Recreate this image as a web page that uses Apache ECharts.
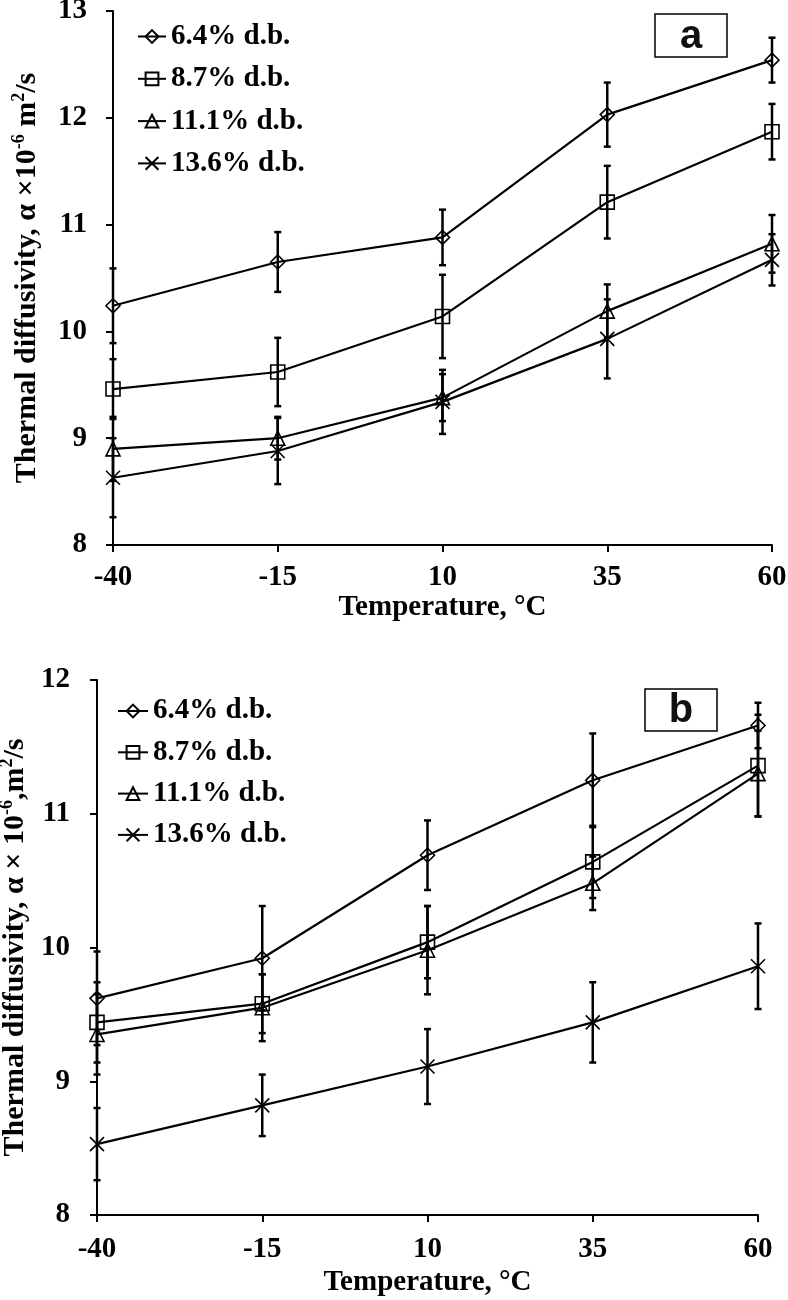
<!DOCTYPE html>
<html><head><meta charset="utf-8">
<script src="https://cdn.jsdelivr.net/npm/echarts@6/dist/echarts.min.js"></script>
<style>html,body{margin:0;padding:0;background:#fff}#c{width:788px;height:1300px}</style>
</head><body><div id="c"></div>
<script>
// ---- data ----
const categories = ['-40', '-15', '10', '35', '60'];
const seriesNames = ['6.4% d.b.', '8.7% d.b.', '11.1% d.b.', '13.6% d.b.'];
// panel a
const a64 = [10.24, 10.65, 10.88, 12.03, 12.54];
const a87 = [9.46, 9.62, 10.14, 11.21, 11.87];
const a111 = [8.90, 9.00, 9.38, 10.19, 10.82];
const a136 = [8.63, 8.88, 9.34, 9.93, 10.67];
const a64Err = [0.35, 0.28, 0.26, 0.30, 0.21];
const a87Err = [0.28, 0.32, 0.39, 0.34, 0.26];
const a111Err = [0.30, 0.20, 0.22, 0.25, 0.27];
const a136Err = [0.37, 0.31, 0.30, 0.37, 0.24];
// panel b
const b64 = [9.62, 9.92, 10.69, 11.25, 11.66];
const b87 = [9.44, 9.58, 10.04, 10.64, 11.36];
const b111 = [9.35, 9.55, 9.98, 10.48, 11.30];
const b136 = [8.53, 8.82, 9.11, 9.44, 9.86];
const b64Err = [0.35, 0.39, 0.26, 0.35, 0.17];
const b87Err = [0.30, 0.22, 0.27, 0.27, 0.38];
const b111Err = [0.30, 0.25, 0.33, 0.20, 0.32];
const b136Err = [0.27, 0.23, 0.28, 0.30, 0.32];
const yTicksA = [8, 13];
const yTicksB = [8, 12];

// ---- styling ----
const SERIF = "'Liberation Serif','Times New Roman',serif";
const SANS = "'Liberation Sans',Arial,sans-serif";
const FS = 29;
const symbols = ['diamond', 'rect', 'triangle', 'path://M0,0L10,10M10,0L0,10'];

const chart = echarts.init(document.getElementById('c'), null, {renderer: 'canvas'});

function errRender(params, api) {
  const x = api.value(0), lo = api.value(1), hi = api.value(2);
  const p1 = api.coord([x, lo]), p2 = api.coord([x, hi]);
  const w = 3.5;
  const style = {stroke: '#000', lineWidth: 2.5};
  return {type: 'group', children: [
    {type: 'line', shape: {x1: p1[0], y1: p1[1], x2: p2[0], y2: p2[1]}, style: style},
    {type: 'line', shape: {x1: p1[0] - w, y1: p1[1], x2: p1[0] + w, y2: p1[1]}, style: style},
    {type: 'line', shape: {x1: p2[0] - w, y1: p2[1], x2: p2[0] + w, y2: p2[1]}, style: style}
  ]};
}

function lineSeries(name, data, idx, axisIdx) {
  return {
    name: name, type: 'line', data: data,
    xAxisIndex: axisIdx, yAxisIndex: axisIdx,
    symbol: symbols[idx], symbolSize: 14, showAllSymbol: true,
    lineStyle: {color: '#000', width: 2.2},
    itemStyle: {color: 'rgba(255,255,255,0)', borderColor: '#000', borderWidth: 1.6},
    emphasis: {disabled: true}, z: 3
  };
}
function errSeries(vals, errs, axisIdx) {
  return {
    type: 'custom', xAxisIndex: axisIdx, yAxisIndex: axisIdx,
    renderItem: errRender,
    encode: {x: 0, y: [1, 2]},
    data: vals.map((v, i) => [i, v - errs[i], v + errs[i]]),
    z: 4, silent: true
  };
}

const grids = [
  {left: 113, top: 11, width: 659, height: 534, containLabel: false, outerBoundsMode: 'none'},
  {left: 97, top: 680, width: 661, height: 535, containLabel: false, outerBoundsMode: 'none'}
];

function xAxis(gi, labelMargin, nameGap) {
  return {
    type: 'category', gridIndex: gi, data: categories, boundaryGap: false,
    axisLine: {lineStyle: {color: '#000', width: 2}},
    axisTick: {length: 7, lineStyle: {color: '#000', width: 2}},
    axisLabel: {color: '#000', fontSize: FS, fontWeight: 'bold', fontFamily: SERIF, margin: labelMargin},
    splitLine: {show: false},
    name: 'Temperature, °C', nameLocation: 'middle', nameGap: nameGap,
    nameTextStyle: {color: '#000', fontSize: FS, fontWeight: 'bold', fontFamily: SERIF}
  };
}
function richName() {
  return {
    a: {fontSize: 30, fontWeight: 'bold', fontFamily: SERIF, color: '#000', lineHeight: 34, verticalAlign: 'middle'},
    s: {fontSize: 18, fontWeight: 'bold', fontFamily: SERIF, color: '#000', verticalAlign: 'top'}
  };
}
function yAxis(gi, ticks, name, labelMargin, nameGap) {
  return {
    type: 'value', gridIndex: gi, min: ticks[0], max: ticks[1], interval: 1,
    axisLine: {show: true, lineStyle: {color: '#000', width: 2}},
    axisTick: {show: true, length: 7, lineStyle: {color: '#000', width: 2}},
    axisLabel: {color: '#000', fontSize: FS, fontWeight: 'bold', fontFamily: SERIF, margin: labelMargin},
    splitLine: {show: false},
    name: name, nameLocation: 'middle', nameRotate: 90, nameGap: nameGap,
    nameTextStyle: {rich: richName()}
  };
}

const legendBase = {
  orient: 'vertical', data: seriesNames, selectedMode: false, padding: 0,
  itemHeight: 16,
  textStyle: {color: '#000', fontSize: FS, fontWeight: 'bold', fontFamily: SERIF}
};

function labelBox(x, y, w, h, t) {
  return {type: 'group', children: [
    {type: 'rect', shape: {x: x, y: y, width: w, height: h}, style: {fill: '#fff', stroke: '#000', lineWidth: 1.5}},
    {type: 'text', x: x + w / 2, y: y + h / 2 + 1, style: {text: t, fill: '#111', font: 'bold 40px ' + SANS, align: 'center', verticalAlign: 'middle'}}
  ]};
}

const option = {
  backgroundColor: '#fff',
  animation: false,
  grid: grids,
  xAxis: [xAxis(0, 18, 44), xAxis(1, 20, 53)],
  yAxis: [
    yAxis(0, yTicksA, '{a|Thermal diffusivity, α ×10}{s|-6}{a| m}{s|2}{a|/s}', 26, 69),
    yAxis(1, yTicksB, '{a|Thermal diffusivity, α × 10}{s|-6}{a|,m}{s|2}{a|/s}', 27, 65)
  ],
  legend: [
    Object.assign({}, legendBase, {left: 137, top: 22, itemWidth: 28, itemGap: 13.3}),
    Object.assign({}, legendBase, {left: 117, top: 696.5, itemWidth: 30, itemGap: 12.3})
  ],
  graphic: [labelBox(655, 14, 72, 43, 'a'), labelBox(645, 689, 72, 42, 'b')],
  series: [
    lineSeries(seriesNames[0], a64, 0, 0),
    lineSeries(seriesNames[1], a87, 1, 0),
    lineSeries(seriesNames[2], a111, 2, 0),
    lineSeries(seriesNames[3], a136, 3, 0),
    errSeries(a64, a64Err, 0),
    errSeries(a87, a87Err, 0),
    errSeries(a111, a111Err, 0),
    errSeries(a136, a136Err, 0),
    lineSeries(seriesNames[0], b64, 0, 1),
    lineSeries(seriesNames[1], b87, 1, 1),
    lineSeries(seriesNames[2], b111, 2, 1),
    lineSeries(seriesNames[3], b136, 3, 1),
    errSeries(b64, b64Err, 1),
    errSeries(b87, b87Err, 1),
    errSeries(b111, b111Err, 1),
    errSeries(b136, b136Err, 1)
  ]
};
chart.setOption(option);
</script>
</body></html>
